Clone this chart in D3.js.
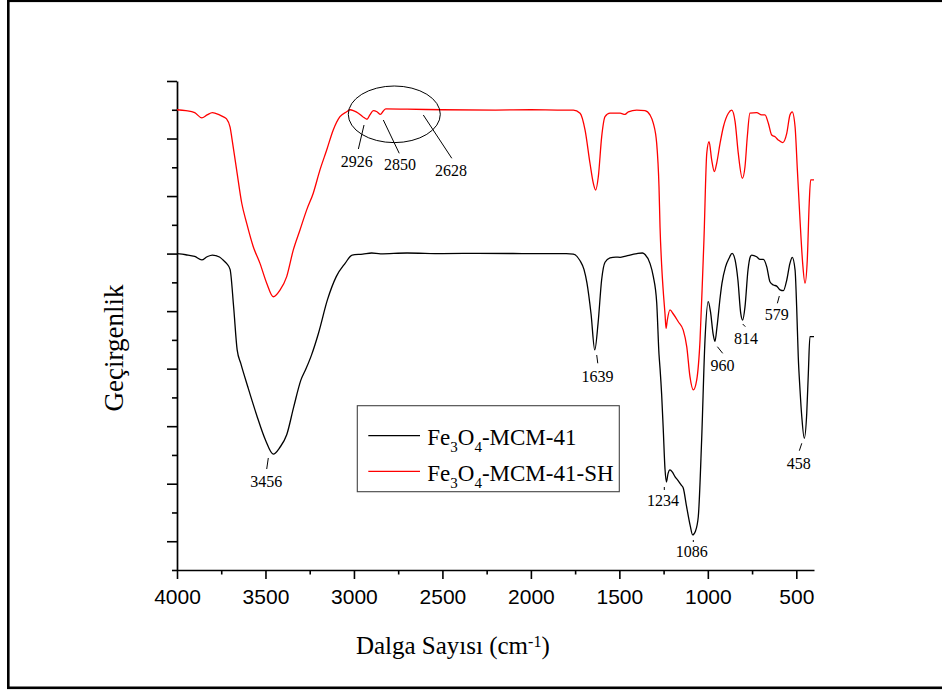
<!DOCTYPE html>
<html><head><meta charset="utf-8">
<script src="https://cdn.jsdelivr.net/npm/d3@7"></script>
<style>body{margin:0;background:#fff}svg{display:block}</style>
</head><body>
<svg id="c" width="942" height="691"></svg>
<script>
// ---------- DATA ----------
const seriesNames = ["Fe3O4-MCM-41", "Fe3O4-MCM-41-SH"];
const xMajorTicks = [4000, 3500, 3000, 2500, 2000, 1500, 1000, 500];
const xMinorTicks = [3750, 3250, 2750, 2250, 1750, 1250, 750];
const yMajorTicks = [1, 3, 5, 7, 9, 11, 13, 15, 17];
const yMinorTicks = [0, 2, 4, 6, 8, 10, 12, 14, 16];

const blackWavenumber = [4000,3950,3900,3860,3830,3800,3760,3740,3720,3700,3680,3660,3640,3600,3550,3500,3456,3420,3380,3340,3300,3270,3240,3200,3150,3100,3050,3010,2950,2900,2850,2700,2500,2300,2000,1800,1760,1722,1700,1683,1660,1639,1620,1600,1581,1553,1520,1496,1470,1440,1400,1370,1355,1327,1308,1289,1276,1270,1261,1252,1242,1234,1225,1214,1200,1185,1167,1150,1139,1120,1100,1086,1070,1054,1035,1016,998,985,970,960,948,930,920,900,880,863,846,830,814,803,790,773,760,752,724,705,686,667,649,630,611,592,573,554,536,523,507,498,489,479,469,455,441,432,423,410,400];
const blackTransmittance = [11.0,10.96,10.9,10.78,10.89,10.95,10.88,10.78,10.66,10.45,9.15,7.65,7.19,6.37,5.39,4.52,4.03,4.25,4.7,5.68,6.6,7.01,7.47,8.24,9.39,10.2,10.66,10.95,10.98,11.02,10.99,11.02,11.0,11.01,11.0,11.0,10.98,10.75,10.45,9.97,8.9,7.65,8.6,10.1,10.7,10.85,10.88,10.87,10.9,10.95,11.0,11.02,10.97,10.66,10.2,9.3,7.5,7.0,6.1,4.9,3.5,3.06,3.35,3.48,3.4,3.24,3.1,2.95,2.85,2.2,1.55,1.22,1.35,1.85,4.52,8.0,9.33,8.98,8.2,7.95,8.46,9.5,9.97,10.54,10.84,11.01,10.78,10.08,8.92,8.69,9.15,10.43,10.89,10.95,10.89,10.8,10.8,10.54,10.02,9.91,9.87,9.74,9.71,10.08,10.66,10.87,10.43,9.15,7.42,6.26,5.33,4.58,5.45,6.84,8.11,8.11,8.11];

const redWavenumber = [4000,3950,3900,3860,3830,3800,3760,3740,3720,3700,3691,3663,3634,3606,3569,3531,3493,3456,3418,3380,3343,3305,3267,3230,3192,3154,3117,3079,3041,3022,3000,2975,2950,2926,2910,2890,2870,2850,2835,2820,2700,2500,2200,2000,1835,1760,1722,1694,1666,1647,1634,1619,1600,1581,1553,1496,1468,1449,1402,1355,1327,1308,1289,1276,1270,1261,1252,1242,1236,1229,1214,1195,1167,1139,1119,1101,1082,1063,1044,1029,1022,1006,993,978,963,950,931,912,884,865,846,828,805,790,777,762,724,696,677,658,639,620,602,577,554,536,523,507,494,479,464,451,438,427,419,410,400];
const redTransmittance = [16.0,15.97,15.9,15.72,15.82,15.9,15.82,15.76,15.68,15.4,15.06,13.91,12.75,12.05,11.24,10.66,9.97,9.5,9.73,10.2,11.12,11.82,12.52,13.1,13.91,14.6,15.3,15.76,15.93,16.0,15.96,15.88,15.76,15.67,15.82,15.97,15.93,15.84,15.95,16.03,16.02,16.0,15.99,16.0,15.99,15.99,15.88,15.3,14.14,13.44,13.21,13.67,15.06,15.76,15.88,15.88,15.84,15.93,15.99,15.97,15.82,15.53,14.83,13.33,11.9,10.6,9.7,8.9,8.4,8.69,9.04,8.9,8.63,8.34,7.76,6.72,6.26,6.6,8.0,10.31,11.47,14.49,14.89,14.25,13.85,14.14,14.83,15.41,15.88,15.99,15.59,14.49,13.62,14.02,15.06,15.88,15.9,15.82,15.82,15.53,15.12,15.06,14.95,14.86,15.18,15.82,15.93,15.41,13.91,12.17,10.66,9.97,10.78,12.75,13.56,13.56,13.56];

// peak annotations (in data units): label, leader start [wn,T], leader end [wn,T], text anchor [wn,T]
const peakLabels   = ["3456","1639","1234","1086","960","814","579","458","2926","2850","2628"];
const leaderStart  = [[3484,3.894],[1628,7.474],[1246,2.885],[1082,1.043],[946,7.763],[803,8.552],[596,9.525],[469,4.405],[2943,15.47],[2834,15.644],[2608,15.818]];
const leaderEnd    = [[3493,3.511],[1622,7.186],[1246,2.781],[1082,0.973],[916,7.533],[788,8.458],[607,9.272],[483,4.147],[2975,14.636],[2744,14.486],[2447,14.313]];
const labelAnchor  = [[3496,2.885],[1623,6.546],[1253,2.208],[1091,0.469],[917,6.918],[785,7.857],[611,8.691],[486,3.511],[2984,14.01],[2740,13.906],[2451,13.697]];
const ellipseCenter = [2772, 15.842];
const ellipseRadii  = [260, 0.984];

// ---------- DRAW ----------
const svg = d3.select("#c");
const serif = "'Liberation Serif','Times New Roman',Times,serif";
const sans = "'Liberation Sans',Arial,Helvetica,sans-serif";

// outer frame
svg.append("rect").attr("x", 8.3).attr("y", 0.8).attr("width", 960).attr("height", 687)
  .attr("fill", "none").attr("stroke", "#000").attr("stroke-width", 2.6);

const x = d3.scaleLinear().domain([4000, 400]).range([177, 814]);
const y = d3.scaleLinear().domain([0, 17]).range([570, 81]);

// axes
const gx = svg.append("g").attr("transform", "translate(0,570)");
gx.call(d3.axisBottom(x).tickValues(xMajorTicks).tickSize(9).tickSizeOuter(0).tickFormat(d3.format("d")));
gx.call(g => g.selectAll(".tick text").attr("y", 34).attr("dy", 0)
  .attr("font-family", sans).attr("font-size", 21).attr("fill", "#000"));
const gxm = svg.append("g").attr("transform", "translate(0,570)");
gxm.call(d3.axisBottom(x).tickValues(xMinorTicks).tickSize(4.5).tickSizeOuter(0).tickFormat(""));
gxm.select(".domain").remove();

const gy = svg.append("g").attr("transform", "translate(177,0)");
gy.call(d3.axisLeft(y).tickValues(yMajorTicks).tickSize(10).tickSizeOuter(0).tickFormat(""));
const gym = svg.append("g").attr("transform", "translate(177,0)");
gym.call(d3.axisLeft(y).tickValues(yMinorTicks).tickSize(5).tickSizeOuter(0).tickFormat(""));
gym.select(".domain").remove();

svg.selectAll(".domain").attr("stroke", "#000").attr("stroke-width", 1.7);
svg.selectAll(".tick line").attr("stroke", "#000").attr("stroke-width", 1.6);

// curves
const line = d3.line().x(d => x(d[0])).y(d => y(d[1])).curve(d3.curveMonotoneX);
const blackData = blackWavenumber.map((w, i) => [w, blackTransmittance[i]]);
const redData = redWavenumber.map((w, i) => [w, redTransmittance[i]]);
svg.append("path").datum(redData).attr("d", line).attr("fill", "none")
  .attr("stroke", "#ff0000").attr("stroke-width", 1.3);
svg.append("path").datum(blackData).attr("d", line).attr("fill", "none")
  .attr("stroke", "#000").attr("stroke-width", 1.3);

// annotations
const ann = svg.append("g");
peakLabels.forEach((lab, i) => {
  ann.append("line")
    .attr("x1", x(leaderStart[i][0])).attr("y1", y(leaderStart[i][1]))
    .attr("x2", x(leaderEnd[i][0])).attr("y2", y(leaderEnd[i][1]))
    .attr("stroke", "#000").attr("stroke-width", 1);
  ann.append("text").attr("x", x(labelAnchor[i][0])).attr("y", y(labelAnchor[i][1]))
    .attr("text-anchor", "middle").attr("font-family", serif).attr("font-size", 16)
    .attr("fill", "#000").text(lab);
});
ann.append("ellipse")
  .attr("cx", x(ellipseCenter[0])).attr("cy", y(ellipseCenter[1]))
  .attr("rx", Math.abs(x(ellipseCenter[0] + ellipseRadii[0]) - x(ellipseCenter[0])))
  .attr("ry", Math.abs(y(ellipseCenter[1] + ellipseRadii[1]) - y(ellipseCenter[1])))
  .attr("fill", "none").attr("stroke", "#000").attr("stroke-width", 1);

// axis titles
const xt = svg.append("text").attr("x", 452.8).attr("y", 654.3).attr("text-anchor", "middle")
  .attr("font-family", serif).attr("font-size", 25).attr("fill", "#000");
xt.append("tspan").text("Dalga Sayısı (cm");
xt.append("tspan").attr("font-size", 16).attr("dy", -7).text("-1");
xt.append("tspan").attr("dy", 7).text(")");

svg.append("text").attr("transform", "translate(123,348) rotate(-90)").attr("text-anchor", "middle")
  .attr("font-family", serif).attr("font-size", 27).attr("fill", "#000").text("Geçirgenlik");

// legend
const lg = svg.append("g");
lg.append("rect").attr("x", 357.3).attr("y", 405.7).attr("width", 262).attr("height", 86)
  .attr("fill", "#fff").attr("stroke", "#444").attr("stroke-width", 1.1);
const legendColors = ["#000", "#ff0000"];
const legendSuffix = ["-MCM-41", "-MCM-41-SH"];
[0, 1].forEach(i => {
  const by = 445 + i * 35.7;
  lg.append("line").attr("x1", 368.3).attr("x2", 420).attr("y1", by - 9.3).attr("y2", by - 9.3)
    .attr("stroke", legendColors[i]).attr("stroke-width", 1.3);
  const t = lg.append("text").attr("x", 427.3).attr("y", by).attr("font-family", serif)
    .attr("font-size", 23).attr("fill", "#000");
  t.append("tspan").text("Fe");
  t.append("tspan").attr("font-size", 15).attr("dy", 7).text("3");
  t.append("tspan").attr("dy", -7).text("O");
  t.append("tspan").attr("font-size", 15).attr("dy", 7).text("4");
  t.append("tspan").attr("dy", -7).text(legendSuffix[i]);
});
</script>
</body></html>
